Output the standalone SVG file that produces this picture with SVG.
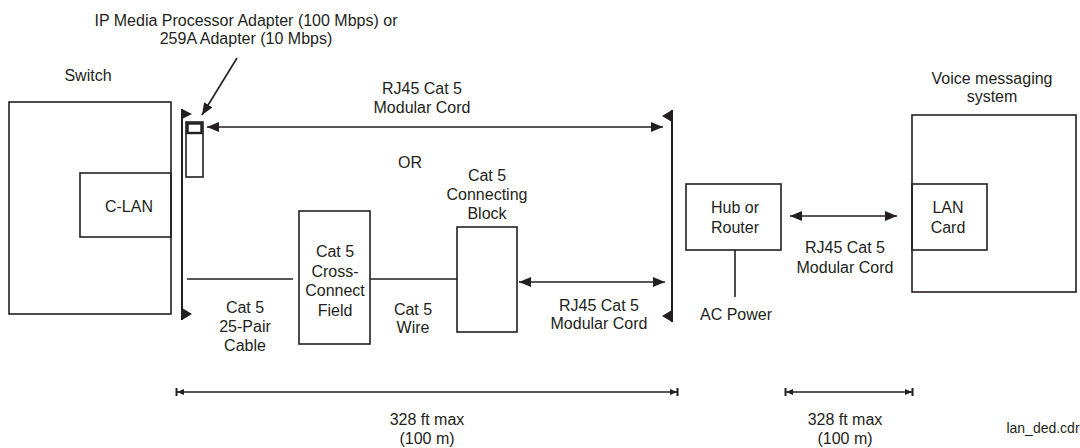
<svg xmlns="http://www.w3.org/2000/svg" width="1080" height="448" viewBox="0 0 1080 448">
<style>
text{font-family:"Liberation Sans",Arial,sans-serif;font-size:16px;fill:#231f20;text-anchor:middle}
.box{fill:none;stroke:#231f20;stroke-width:1.6}
.ln{fill:none;stroke:#231f20;stroke-width:1.6}
.bar{fill:none;stroke:#231f20;stroke-width:2}
.flag{fill:#231f20}
.small{font-size:14px}
</style>
<defs>
<marker id="ah" markerUnits="userSpaceOnUse" markerWidth="12" markerHeight="10" viewBox="0 0 11 9" refX="11" refY="4.5" orient="auto-start-reverse">
<path d="M0,0 L11,4.5 L0,9 z" fill="#231f20"/>
</marker>
<marker id="dim" markerUnits="userSpaceOnUse" markerWidth="10" markerHeight="10" viewBox="0 0 9 10" refX="8.5" refY="5" orient="auto-start-reverse">
<path d="M0.5,2 L7.5,5 L0.5,8 z" fill="#231f20"/>
<rect x="7" y="1" width="2" height="8" fill="#231f20"/>
</marker>
</defs>

<g id="switch">
<rect class="box" x="9" y="102" width="162" height="212"/>
<text x="88" y="81">Switch</text>
</g>
<g id="c-lan">
<rect class="box" x="80" y="173" width="91" height="64"/>
<text x="129" y="212">C-LAN</text>
</g>

<g id="adapter-label">
<text x="246" y="26">IP Media Processor Adapter (100 Mbps) or</text>
<text x="246" y="44">259A Adapter (10 Mbps)</text>
</g>
<g id="adapter">
<rect class="box" x="186" y="122" width="17" height="55"/>
<rect x="187.5" y="123.5" width="14" height="9.5" fill="none" stroke="#231f20" stroke-width="2.4"/>
</g>

<g id="left-panel">
<line class="bar" x1="182" y1="109" x2="182" y2="320"/>
<polygon class="flag" points="182,109 192,114 182,119"/>
<polygon class="flag" points="182,308 192,314 182,320"/>
</g>
<g id="right-panel">
<line class="bar" x1="672" y1="110" x2="672" y2="322"/>
<polygon class="flag" points="672,110 662,116 672,122"/>
<polygon class="flag" points="672,310 662,316 672,322"/>
</g>

<g id="cross-connect">
<rect class="box" x="299" y="211" width="71" height="133"/>
<text x="335" y="257">Cat 5</text>
<text x="335" y="276.5">Cross-</text>
<text x="335" y="296">Connect</text>
<text x="335" y="315.5">Field</text>
</g>
<g id="connecting-block">
<rect class="box" x="457" y="227" width="60" height="105"/>
<text x="487" y="181">Cat 5</text>
<text x="487" y="200">Connecting</text>
<text x="487" y="219">Block</text>
</g>

<g id="hub-router">
<rect class="box" x="686" y="184" width="95" height="66"/>
<text x="735" y="213">Hub or</text>
<text x="735" y="233">Router</text>
</g>
<g id="ac-power">
<text x="736" y="320">AC Power</text>
</g>

<g id="voice-messaging">
<rect class="box" x="912" y="115" width="164" height="177"/>
<text x="992" y="84">Voice messaging</text>
<text x="992" y="102">system</text>
</g>
<g id="lan-card">
<rect class="box" x="912" y="184" width="75" height="66"/>
<text x="948" y="213">LAN</text>
<text x="948" y="233">Card</text>
</g>

<g id="connectors">
<line class="ln" x1="237" y1="58" x2="202" y2="115" marker-end="url(#ah)"/>
<line class="ln" x1="207" y1="127" x2="663" y2="127" marker-start="url(#ah)" marker-end="url(#ah)"/>
<line class="ln" x1="187" y1="279" x2="293" y2="279"/>
<line class="ln" x1="370" y1="279" x2="457" y2="279"/>
<line class="ln" x1="519" y1="282" x2="665" y2="282" marker-start="url(#ah)" marker-end="url(#ah)"/>
<line class="ln" x1="735" y1="250" x2="735" y2="297"/>
<line class="ln" x1="790" y1="216" x2="897" y2="216" marker-start="url(#ah)" marker-end="url(#ah)"/>
<line class="ln" x1="176" y1="392" x2="678" y2="392" marker-start="url(#dim)" marker-end="url(#dim)"/>
<line class="ln" x1="785" y1="392" x2="913" y2="392" marker-start="url(#dim)" marker-end="url(#dim)"/>
</g>

<g id="labels">
<text x="422" y="94">RJ45 Cat 5</text>
<text x="422" y="113">Modular Cord</text>
<text x="410" y="168">OR</text>
<text x="245" y="313">Cat 5</text>
<text x="245" y="332">25-Pair</text>
<text x="245" y="351">Cable</text>
<text x="413" y="315">Cat 5</text>
<text x="413" y="333">Wire</text>
<text x="599" y="311">RJ45 Cat 5</text>
<text x="599" y="329">Modular Cord</text>
<text x="845" y="253">RJ45 Cat 5</text>
<text x="845" y="273">Modular Cord</text>
<text x="427" y="425">328 ft max</text>
<text x="427" y="444">(100 m)</text>
<text x="845" y="425">328 ft max</text>
<text x="845" y="444">(100 m)</text>
<text class="small" x="1043" y="433">lan_ded.cdr</text>
</g>
</svg>
